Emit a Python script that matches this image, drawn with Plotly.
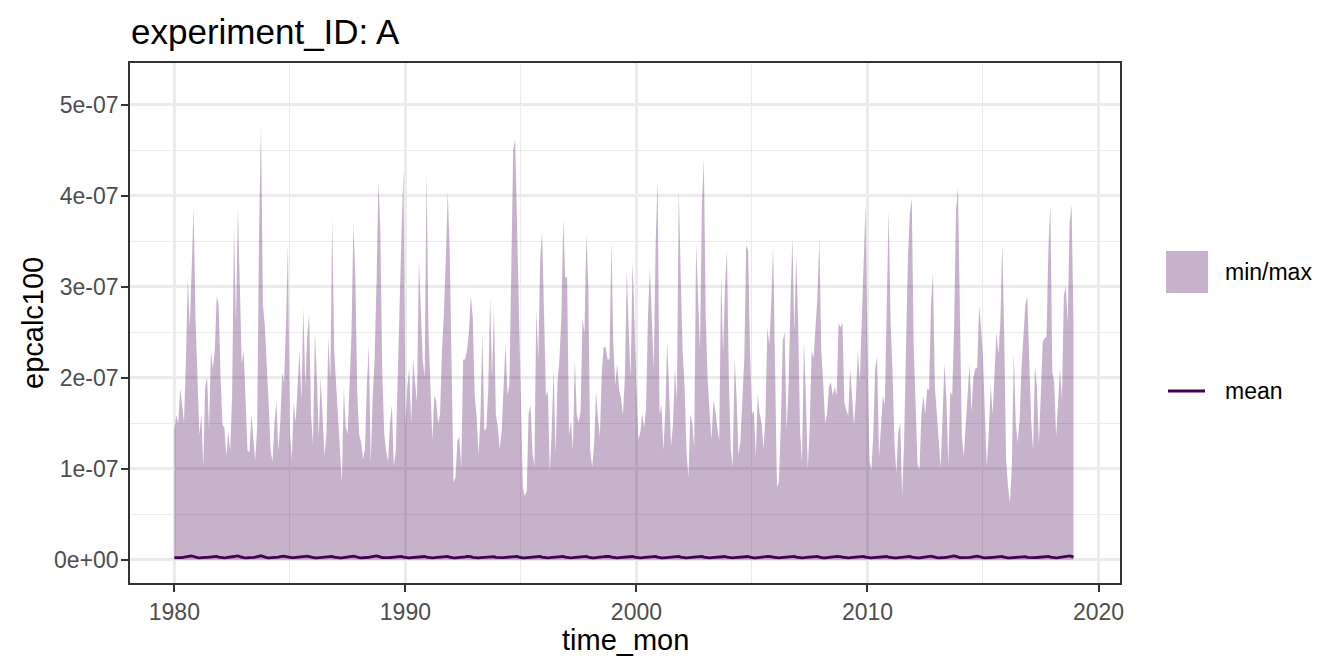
import plotly.graph_objects as go

# ---------------- data ----------------
years = list(range(1980, 2019))

# monthly maxima, in units of 1e-7 (one row per year, Jan..Dec)
max_e7 = [
    [1.42, 1.59, 1.49, 1.88, 1.71, 1.51, 2.2, 3.1, 2.55, 3.3, 3.86, 2.64],   # 1980
    [1.9, 1.37, 1.6, 1.02, 1.9, 2.0, 1.43, 2.3, 2.1, 2.3, 2.9, 2.8],         # 1981
    [2.0, 1.48, 1.45, 1.14, 1.4, 1.2, 1.8, 3.66, 2.6, 3.86, 3.0, 2.15],      # 1982
    [2.3, 1.68, 1.2, 1.18, 1.6, 1.34, 1.09, 1.45, 3.6, 4.78, 2.8, 2.57],     # 1983
    [2.2, 1.7, 1.2, 1.08, 1.5, 1.75, 1.2, 1.5, 2.05, 1.95, 2.6, 3.47],       # 1984
    [1.42, 1.1, 1.73, 1.51, 1.9, 2.3, 1.75, 2.77, 1.9, 2.45, 2.7, 1.59],     # 1985
    [1.27, 2.5, 2.0, 1.35, 2.0, 1.49, 1.14, 1.4, 2.45, 1.96, 3.75, 2.3],     # 1986
    [1.92, 1.6, 1.19, 0.85, 1.88, 1.46, 1.38, 2.05, 2.48, 3.7, 3.1, 1.84],   # 1987
    [1.37, 1.29, 1.1, 1.22, 1.92, 2.35, 1.05, 1.79, 2.2, 3.05, 4.17, 3.6],   # 1988
    [2.06, 1.38, 1.19, 1.08, 1.5, 1.7, 1.03, 1.2, 2.1, 3.0, 3.6, 4.3],       # 1989
    [1.5, 1.9, 2.1, 1.5, 2.2, 1.95, 1.73, 3.3, 2.75, 2.2, 2.0, 4.27],        # 1990
    [2.5, 1.97, 1.31, 1.8, 1.75, 1.5, 1.6, 2.3, 2.7, 3.3, 4.04, 3.4],        # 1991
    [2.0, 0.85, 0.9, 1.3, 1.35, 1.02, 2.2, 2.2, 2.3, 2.5, 2.9, 2.66],        # 1992
    [1.8, 1.57, 1.15, 1.59, 2.5, 1.42, 1.44, 1.85, 2.88, 2.0, 2.74, 1.59],   # 1993
    [1.46, 1.22, 1.41, 1.86, 2.38, 1.81, 1.92, 3.2, 4.5, 4.62, 3.6, 2.55],   # 1994
    [1.92, 0.8, 0.7, 0.75, 1.6, 1.7, 1.18, 1.02, 2.75, 2.2, 3.29, 3.6],      # 1995
    [2.73, 1.8, 1.85, 0.96, 1.42, 2.1, 1.16, 1.95, 2.2, 2.66, 3.75, 3.1],    # 1996
    [3.1, 1.37, 1.53, 1.2, 2.21, 1.6, 1.51, 1.63, 2.66, 2.48, 3.58, 3.0],    # 1997
    [1.2, 1.02, 1.25, 1.85, 1.56, 1.35, 2.06, 2.34, 2.33, 2.2, 2.2, 3.5],    # 1998
    [2.36, 1.92, 2.15, 1.87, 1.77, 1.59, 2.0, 3.18, 2.5, 2.0, 3.29, 2.45],   # 1999
    [1.9, 1.32, 1.4, 1.6, 1.45, 1.66, 2.69, 3.2, 2.6, 2.1, 3.48, 4.18],      # 2000
    [1.6, 1.7, 1.2, 1.65, 2.4, 1.79, 1.25, 1.5, 2.1, 1.76, 4.07, 3.12],      # 2001
    [2.3, 1.9, 1.2, 0.9, 1.6, 1.5, 1.23, 3.48, 2.9, 2.3, 3.9, 4.4],          # 2002
    [2.65, 1.98, 1.62, 1.32, 1.75, 1.64, 1.45, 1.31, 3.14, 2.27, 3.0, 3.4],  # 2003
    [2.0, 1.22, 1.02, 2.2, 1.8, 1.15, 1.3, 1.81, 2.2, 3.45, 3.4, 2.3],       # 2004
    [1.6, 1.64, 1.13, 1.82, 1.6, 1.5, 1.22, 1.55, 2.55, 2.36, 2.8, 3.45],    # 2005
    [2.3, 0.8, 0.85, 1.5, 2.4, 2.5, 1.42, 1.9, 2.8, 3.55, 2.5, 3.35],        # 2006
    [2.57, 1.4, 1.07, 2.4, 1.8, 1.0, 1.46, 2.3, 2.21, 2.5, 2.88, 3.53],      # 2007
    [2.3, 1.95, 1.5, 1.6, 1.9, 1.95, 1.8, 1.9, 1.8, 2.6, 2.55, 2.6],         # 2008
    [1.73, 1.64, 1.58, 2.1, 1.8, 1.48, 1.8, 2.3, 1.95, 2.6, 3.1, 3.9],       # 2009
    [2.3, 1.1, 0.98, 1.37, 2.1, 2.23, 1.12, 1.5, 1.8, 1.7, 2.8, 3.84],       # 2010
    [2.6, 2.08, 1.3, 0.95, 1.4, 1.5, 0.7, 1.27, 2.32, 3.3, 3.8, 3.97],       # 2011
    [2.35, 1.64, 1.05, 0.99, 1.6, 1.8, 1.6, 1.88, 1.86, 2.8, 3.15, 1.9],     # 2012
    [1.65, 1.31, 1.01, 1.5, 2.16, 1.76, 1.04, 1.85, 1.8, 2.56, 3.84, 4.08],  # 2013
    [2.5, 1.37, 1.13, 1.5, 1.9, 2.15, 1.62, 2.0, 2.1, 2.11, 2.79, 2.55],     # 2014
    [2.2, 1.5, 1.03, 1.4, 1.92, 1.6, 2.0, 2.5, 2.26, 2.6, 3.47, 2.5],        # 2015
    [1.1, 0.8, 0.63, 1.03, 2.27, 1.5, 1.29, 1.53, 2.1, 2.5, 2.8, 2.89],      # 2016
    [2.2, 1.54, 1.2, 2.13, 1.9, 1.27, 1.8, 2.39, 2.43, 2.45, 3.45, 3.9],     # 2017
    [2.06, 1.95, 1.35, 1.7, 2.1, 1.76, 2.9, 3.0, 2.6, 3.7, 3.9, 2.6],        # 2018
]

# monthly means, in units of 1e-9
mean_e9 = [
    [2.3, 2.2, 2.1, 2.2, 2.4, 2.7, 3.0, 3.4, 3.9, 4.1, 3.5, 2.7],
    [2.2, 2.1, 2.0, 2.2, 2.5, 2.6, 2.9, 3.3, 3.8, 4.0, 3.6, 2.8],
    [2.4, 2.2, 2.1, 2.3, 2.4, 2.6, 3.0, 3.5, 3.9, 4.2, 3.4, 2.6],
    [2.3, 2.1, 2.0, 2.1, 2.3, 2.5, 2.8, 3.4, 4.0, 4.3, 3.6, 2.7],
    [2.2, 2.1, 2.1, 2.2, 2.4, 2.6, 2.9, 3.3, 3.7, 3.9, 3.5, 2.8],
    [2.3, 2.2, 2.2, 2.3, 2.5, 2.7, 3.0, 3.3, 3.6, 3.8, 3.3, 2.6],
    [2.2, 2.1, 2.0, 2.2, 2.4, 2.6, 2.9, 3.4, 3.9, 4.1, 3.6, 2.7],
    [2.3, 2.2, 2.1, 2.1, 2.4, 2.6, 3.0, 3.4, 3.8, 4.0, 3.5, 2.7],
    [2.2, 2.1, 2.1, 2.2, 2.5, 2.7, 3.0, 3.5, 4.0, 4.2, 3.7, 2.8],
    [2.3, 2.2, 2.0, 2.2, 2.4, 2.6, 2.9, 3.3, 3.8, 4.1, 3.6, 2.8],
    [2.4, 2.2, 2.1, 2.3, 2.5, 2.7, 3.0, 3.4, 3.9, 4.1, 3.5, 2.7],
    [2.3, 2.1, 2.1, 2.2, 2.4, 2.6, 2.9, 3.4, 3.9, 4.2, 3.6, 2.8],
    [2.2, 2.0, 2.0, 2.1, 2.3, 2.5, 2.8, 3.2, 3.6, 3.8, 3.4, 2.6],
    [2.2, 2.1, 2.0, 2.2, 2.4, 2.6, 2.9, 3.3, 3.7, 3.9, 3.4, 2.6],
    [2.3, 2.2, 2.1, 2.2, 2.5, 2.7, 3.1, 3.6, 4.1, 4.3, 3.7, 2.8],
    [2.2, 2.0, 1.9, 2.1, 2.3, 2.6, 2.9, 3.3, 3.8, 4.0, 3.6, 2.8],
    [2.3, 2.1, 2.1, 2.2, 2.4, 2.6, 3.0, 3.4, 3.9, 4.1, 3.6, 2.8],
    [2.3, 2.2, 2.1, 2.2, 2.4, 2.6, 2.9, 3.3, 3.8, 4.0, 3.6, 2.8],
    [2.2, 2.1, 2.1, 2.2, 2.4, 2.6, 2.9, 3.3, 3.7, 3.9, 3.5, 2.7],
    [2.3, 2.2, 2.1, 2.2, 2.4, 2.6, 3.0, 3.4, 3.8, 4.0, 3.5, 2.7],
    [2.3, 2.1, 2.1, 2.2, 2.4, 2.7, 3.0, 3.4, 3.9, 4.1, 3.6, 2.8],
    [2.2, 2.1, 2.0, 2.2, 2.4, 2.6, 2.9, 3.3, 3.8, 4.1, 3.6, 2.8],
    [2.3, 2.2, 2.1, 2.2, 2.4, 2.7, 3.0, 3.5, 4.0, 4.2, 3.7, 2.8],
    [2.3, 2.1, 2.0, 2.2, 2.4, 2.6, 2.9, 3.3, 3.8, 4.0, 3.5, 2.7],
    [2.2, 2.1, 2.0, 2.2, 2.4, 2.6, 2.9, 3.4, 3.9, 4.0, 3.5, 2.7],
    [2.2, 2.1, 2.1, 2.2, 2.4, 2.6, 2.9, 3.3, 3.7, 3.9, 3.4, 2.7],
    [2.3, 2.1, 2.0, 2.2, 2.4, 2.7, 3.0, 3.4, 3.9, 4.1, 3.6, 2.8],
    [2.3, 2.2, 2.1, 2.2, 2.4, 2.6, 2.9, 3.3, 3.8, 4.0, 3.6, 2.8],
    [2.2, 2.1, 2.1, 2.2, 2.4, 2.6, 2.9, 3.3, 3.7, 3.9, 3.4, 2.7],
    [2.3, 2.2, 2.1, 2.2, 2.4, 2.6, 2.9, 3.3, 3.8, 4.1, 3.6, 2.8],
    [2.3, 2.1, 2.0, 2.2, 2.4, 2.6, 2.9, 3.3, 3.8, 4.0, 3.5, 2.7],
    [2.2, 2.1, 2.0, 2.1, 2.3, 2.6, 2.9, 3.4, 3.9, 4.1, 3.6, 2.8],
    [2.3, 2.1, 2.0, 2.1, 2.4, 2.6, 2.9, 3.3, 3.7, 3.9, 3.4, 2.6],
    [2.2, 2.1, 2.0, 2.2, 2.4, 2.6, 2.9, 3.4, 3.9, 4.2, 3.6, 2.8],
    [2.3, 2.2, 2.1, 2.2, 2.4, 2.6, 2.9, 3.3, 3.7, 3.9, 3.5, 2.7],
    [2.2, 2.1, 2.0, 2.2, 2.4, 2.6, 2.9, 3.3, 3.8, 4.0, 3.6, 2.7],
    [2.1, 2.0, 1.9, 2.1, 2.3, 2.5, 2.8, 3.2, 3.6, 3.9, 3.4, 2.6],
    [2.3, 2.1, 2.1, 2.2, 2.4, 2.6, 3.0, 3.4, 3.9, 4.1, 3.6, 2.8],
    [2.3, 2.2, 2.1, 2.2, 2.5, 2.7, 3.0, 3.4, 3.9, 4.1, 3.6, 2.8],
]

# monthly minima (1e-7 units): effectively zero everywhere
min_e7 = [[0.0] * 12 for _ in years]

y_tickvals = [0, 1e-7, 2e-7, 3e-7, 4e-7, 5e-7]
y_ticktext = ["0e+00", "1e-07", "2e-07", "3e-07", "4e-07", "5e-07"]
y_minor = [0.5e-7, 1.5e-7, 2.5e-7, 3.5e-7, 4.5e-7]
x_tickvals = [1980, 1990, 2000, 2010, 2020]
x_ticktext = ["1980", "1990", "2000", "2010", "2020"]
x_minor = [1985, 1995, 2005, 2015]

# ---------------- build series ----------------
t = [yr + m / 12 for yr in years for m in range(12)]
ymax = [v * 1e-7 for row in max_e7 for v in row]
ymin = [v * 1e-7 for row in min_e7 for v in row]
ymean = [v * 1e-9 for row in mean_e9 for v in row]

FILL = "rgba(68,1,84,0.3)"
LINE = "#440154"
FONT = "Liberation Sans, Arial, Helvetica, sans-serif"
GRID = "#EBEBEB"
DARK = "#333333"

fig = go.Figure()
fig.add_trace(go.Scatter(x=t, y=ymin, mode="lines", line=dict(width=0),
                         hoverinfo="skip", showlegend=False))
fig.add_trace(go.Scatter(x=t, y=ymax, mode="lines", line=dict(width=0),
                         fill="tonexty", fillcolor=FILL, name="min/max",
                         showlegend=False))
fig.add_trace(go.Scatter(x=t, y=ymean, mode="lines",
                         line=dict(color=LINE, width=2.8), name="mean",
                         showlegend=False))

# the page body adds an 8px offset; size the figure so it fits the window
OFF = 8
W, H = 1344 - OFF, 672 - OFF
L, T = 130 - OFF, 63 - OFF
PW, PH = 990, 520
R, B = W - L - PW, H - T - PH


def px(xs):  # screen pixel -> paper x
    return (xs - OFF - L) / PW


def py(ys):  # screen pixel -> paper y
    return (T + PH - (ys - OFF)) / PH


fig.update_layout(
    width=W, height=H,
    margin=dict(l=L, r=R, t=T, b=B),
    paper_bgcolor="white", plot_bgcolor="white",
    font=dict(family=FONT, color="black"),
    showlegend=False,
    xaxis=dict(
        range=[1978.08, 2020.93],
        tickmode="array", tickvals=x_tickvals, ticktext=x_ticktext,
        showgrid=True, gridcolor=GRID, gridwidth=2.6,
        minor=dict(tickmode="array", tickvals=x_minor, showgrid=True,
                   gridcolor=GRID, gridwidth=1.3, ticklen=0),
        zeroline=False,
        showline=True, linecolor=DARK, linewidth=1.8, mirror=True,
        ticks="outside", ticklen=7, tickwidth=2.4, tickcolor=DARK,
        tickfont=dict(size=23, color="#4D4D4D", family=FONT),
    ),
    yaxis=dict(
        range=[-0.256e-7, 5.456e-7],
        tickmode="array", tickvals=y_tickvals, ticktext=y_ticktext,
        showgrid=True, gridcolor=GRID, gridwidth=2.6,
        minor=dict(tickmode="array", tickvals=y_minor, showgrid=True,
                   gridcolor=GRID, gridwidth=1.3, ticklen=0),
        zeroline=False,
        showline=True, linecolor=DARK, linewidth=1.8, mirror=True,
        ticks="outside", ticklen=7, tickwidth=2.4, tickcolor=DARK,
        ticklabelstandoff=-2,
        tickfont=dict(size=23, color="#4D4D4D", family=FONT),
    ),
)

annotations = [
    dict(text="experiment_ID: A", x=px(129), y=py(32), xref="paper", yref="paper",
         xanchor="left", yanchor="middle", showarrow=False,
         font=dict(size=35, color="black", family=FONT)),
    dict(text="time_mon", x=px(625), y=py(640), xref="paper", yref="paper",
         xanchor="center", yanchor="middle", showarrow=False,
         font=dict(size=29, color="black", family=FONT)),
    dict(text="epcalc100", x=px(33), y=py(323), xref="paper", yref="paper",
         xanchor="center", yanchor="middle", showarrow=False, textangle=-90,
         font=dict(size=29, color="black", family=FONT)),
    dict(text="min/max", x=px(1223), y=py(272), xref="paper", yref="paper",
         xanchor="left", yanchor="middle", showarrow=False,
         font=dict(size=23, color="black", family=FONT)),
    dict(text="mean", x=px(1223), y=py(391), xref="paper", yref="paper",
         xanchor="left", yanchor="middle", showarrow=False,
         font=dict(size=23, color="black", family=FONT)),
]
fig.update_layout(annotations=annotations)

shapes = [
    dict(type="rect", xref="paper", yref="paper",
         x0=px(1166), x1=px(1208), y0=py(293), y1=py(251),
         fillcolor=FILL, line=dict(width=0)),
    dict(type="line", xref="paper", yref="paper",
         x0=px(1168), x1=px(1205), y0=py(391), y1=py(391),
         line=dict(color=LINE, width=3)),
]
fig.update_layout(shapes=shapes)

fig.write_html("out.html")
